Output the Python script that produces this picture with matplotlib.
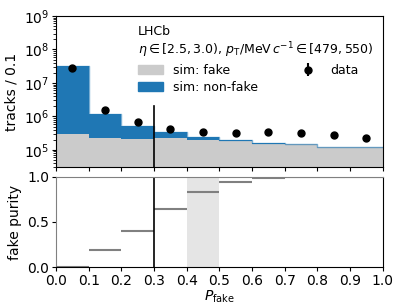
import numpy as np
import matplotlib
matplotlib.use("Agg")
import matplotlib.pyplot as plt
from matplotlib.patches import Patch

# bin edges in P_fake
edges = np.linspace(0.0, 1.0, 11)
centres = 0.5 * (edges[:-1] + edges[1:])

# simulated tracks / 0.1 (stacked: fake at bottom, non-fake on top)
sim_fake = [2.9e5, 2.25e5, 2.1e5, 2.2e5, 2.05e5, 1.8e5, 1.55e5, 1.5e5, 1.25e5, 1.2e5]
sim_total = [3.3e7, 1.17e6, 5.2e5, 3.4e5, 2.4e5, 1.95e5, 1.6e5, 1.5e5, 1.26e5, 1.2e5]
# data tracks / 0.1
data = [2.8e7, 1.6e6, 6.9e5, 4.3e5, 3.5e5, 3.2e5, 3.5e5, 3.2e5, 2.7e5, 2.2e5]
# fake purity per bin
purity = [0.008, 0.187, 0.40, 0.64, 0.83, 0.94, 0.99, 1.0, 1.0, 1.0]

cut = 0.3
blue = '#1f77b4'
grey = '#cbcbcb'

plt.rcParams['xtick.major.size'] = 3
plt.rcParams['ytick.major.size'] = 3
plt.rcParams['xtick.major.pad'] = 2
plt.rcParams['ytick.major.pad'] = 2

fig = plt.figure(figsize=(4.07, 3.05), dpi=100)
ax = fig.add_axes([0.1376, 0.451, 0.8024, 0.4965])
ax2 = fig.add_axes([0.1376, 0.1236, 0.8024, 0.2971])

# stacked histograms
fake_step = np.append(sim_fake, sim_fake[-1])
total_step = np.append(sim_total, sim_total[-1])
ax.fill_between(edges, 1, fake_step, step='post', color=grey, lw=0)
ax.fill_between(edges, fake_step, total_step, step='post', color=blue, lw=0)
ax.step(edges, total_step, where='post', color=blue, lw=1, alpha=0.6)
ax.errorbar(centres, data, yerr=np.sqrt(data), fmt='o', color='black', ms=5)
ax.axvline(cut, ymax=0.405, color='black', lw=1.2)

ax.set_yscale('log')
ax.set_ylim(3e4, 1e9)
ax.set_xlim(0, 1)
ax.set_xticks(np.linspace(0, 1, 11))
ax.tick_params(labelbottom=False)
ax.set_ylabel('tracks / 0.1')

handles = [Patch(color=grey), Patch(color=blue),
           ax.errorbar([], [], yerr=[], fmt='o', color='black', ms=5)]
labels = ['sim: fake', 'sim: non-fake', 'data']
leg = ax.legend(handles, labels, ncol=2, loc='upper right', frameon=False,
                title='LHCb\n$\\eta \\in [2.5, 3.0)$, $p_{\\mathrm{T}}$/MeV$\\,c^{-1} \\in [479, 550)$',
                alignment='left', fontsize=9, title_fontsize=9,
                borderaxespad=0.3, handletextpad=0.8,
                columnspacing=3.0, labelspacing=0.3)

# fake purity panel
ax2.axvspan(0.4, 0.5, color='#e5e5e5', lw=0)
ax2.hlines(purity, edges[:-1], edges[1:], color='grey', lw=1.5)
ax2.axvline(cut, color='black', lw=1.2)
ax2.set_xlim(0, 1)
ax2.set_ylim(0, 1)
ax2.set_xticks(np.linspace(0, 1, 11))
ax2.set_yticks([0.0, 0.5, 1.0])
ax2.set_ylabel('fake purity')
ax2.set_xlabel('$P_{\\mathrm{fake}}$', labelpad=0)
ax2.spines['left'].set_color('grey')
ax2.spines['top'].set_color('grey')

fig.savefig('out.png', dpi=100)
